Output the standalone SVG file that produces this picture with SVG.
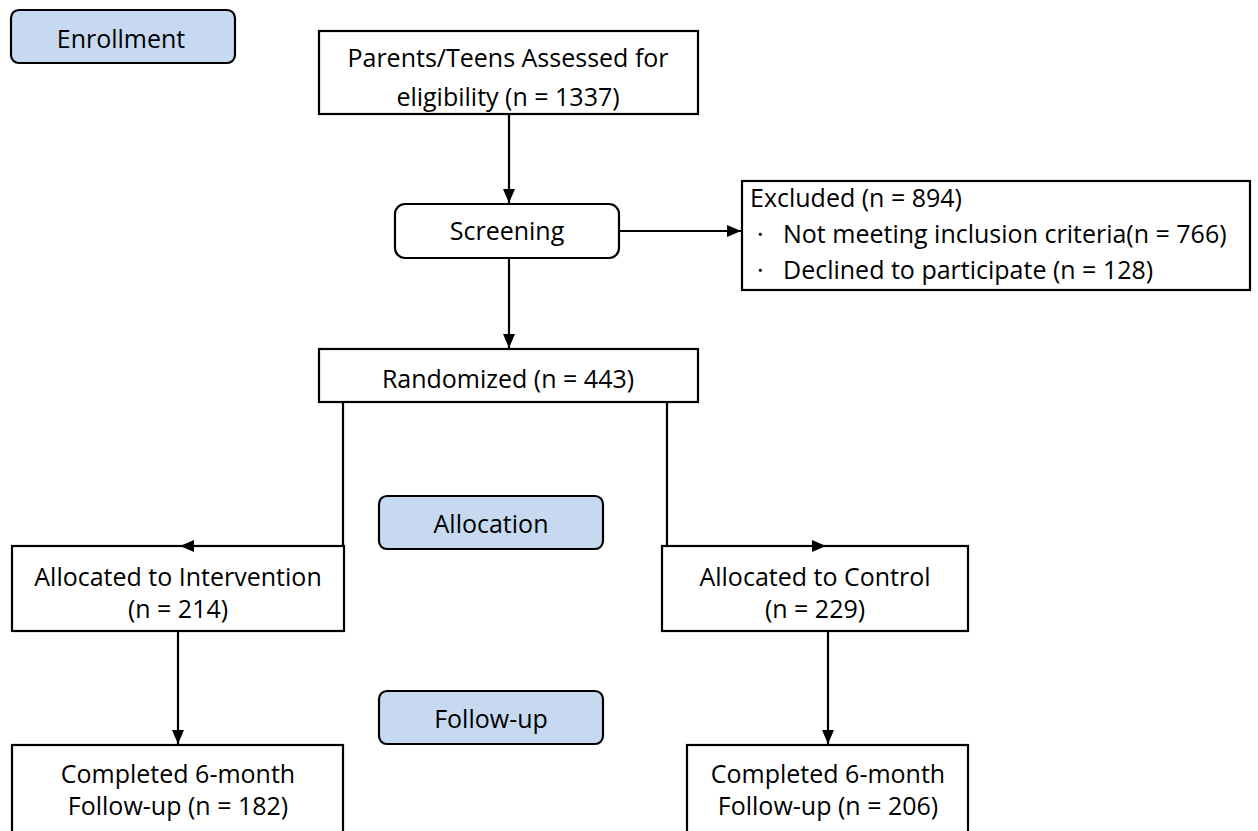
<svg xmlns="http://www.w3.org/2000/svg" width="1258" height="831" viewBox="0 0 1258 831">
<style>
.box{fill:#fff;stroke:#000;stroke-width:2.2}
.rbox{fill:#fff;stroke:#000;stroke-width:2.2}
.lab{fill:#c6d9f0;stroke:#000;stroke-width:2.2}
text{font-family:"Open Sans","Liberation Sans",sans-serif;font-size:25px;fill:#000}
.c{text-anchor:middle}
.ln{fill:none;stroke:#000;stroke-width:2.2}
</style>
<defs>
<marker id="ah" viewBox="0 0 14 12" refX="14" refY="6" markerWidth="14" markerHeight="12" markerUnits="userSpaceOnUse" orient="auto">
<path d="M0,0 L14,6 L0,12 Z" fill="#000"/>
</marker>
</defs>
<rect width="1258" height="831" fill="#fff"/>
<g id="enrollment"><rect class="lab" x="11" y="10" width="224" height="53" rx="8"/><text class="c" x="121" y="48">Enrollment</text></g>
<g id="assessed"><rect class="box" x="319" y="31" width="379" height="83"/><text class="c" x="508" y="67">Parents/Teens Assessed for</text><text class="c" x="508" y="106">eligibility (n = 1337)</text></g>
<g id="screening"><rect class="rbox" x="395" y="204" width="224" height="54" rx="10"/><text class="c" x="507" y="240">Screening</text></g>
<g id="excluded"><rect class="box" x="742" y="181" width="508" height="109"/><text x="750" y="207">Excluded (n = 894)</text><text x="757" y="243">·</text><text x="783" y="243">Not meeting inclusion criteria(n = 766)</text><text x="757" y="279">·</text><text x="783" y="279">Declined to participate (n = 128)</text></g>
<g id="randomized"><rect class="box" x="319" y="349" width="379" height="53"/><text class="c" x="508" y="388">Randomized (n = 443)</text></g>
<g id="allocation"><rect class="lab" x="379" y="496" width="224" height="53" rx="8"/><text class="c" x="491" y="533">Allocation</text></g>
<g id="intervention"><rect class="box" x="12" y="546" width="332" height="85"/><text class="c" x="178" y="586">Allocated to Intervention</text><text class="c" x="178" y="618">(n = 214)</text></g>
<g id="control"><rect class="box" x="662" y="546" width="306" height="85"/><text class="c" x="815" y="586">Allocated to Control</text><text class="c" x="815" y="618">(n = 229)</text></g>
<g id="followup"><rect class="lab" x="379" y="691" width="224" height="53" rx="8"/><text class="c" x="491" y="728">Follow-up</text></g>
<g id="completed-int"><rect class="box" x="12" y="745" width="331" height="90"/><text class="c" x="178" y="783">Completed 6-month</text><text class="c" x="178" y="815">Follow-up (n = 182)</text></g>
<g id="completed-ctl"><rect class="box" x="687" y="745" width="281" height="90"/><text class="c" x="828" y="783">Completed 6-month</text><text class="c" x="828" y="815">Follow-up (n = 206)</text></g>
<g id="connectors">
<line class="ln" x1="509" y1="114" x2="509" y2="203" marker-end="url(#ah)"/>
<line class="ln" x1="619" y1="231" x2="741" y2="231" marker-end="url(#ah)"/>
<line class="ln" x1="509" y1="258" x2="509" y2="348" marker-end="url(#ah)"/>
<polyline class="ln" points="343,402 343,546 180,546" marker-end="url(#ah)"/>
<polyline class="ln" points="667,402 667,546 826,546" marker-end="url(#ah)"/>
<line class="ln" x1="178" y1="631" x2="178" y2="744" marker-end="url(#ah)"/>
<line class="ln" x1="828" y1="631" x2="828" y2="744" marker-end="url(#ah)"/>
</g>
</svg>
